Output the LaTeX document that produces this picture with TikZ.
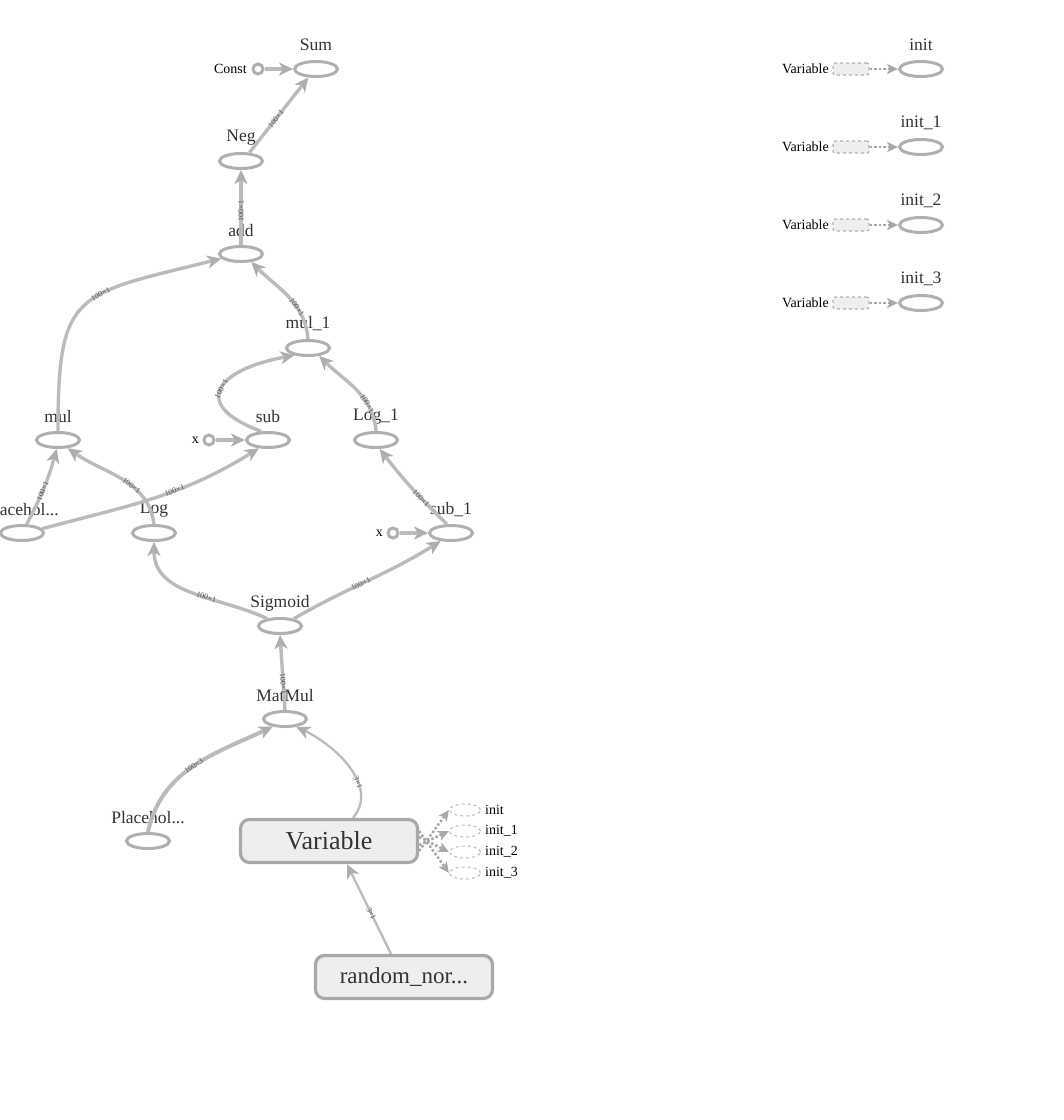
\documentclass[tikz,border=0pt]{standalone}
\usepackage{fontspec}
\setmainfont{Liberation Serif}
\usetikzlibrary{shapes.geometric,arrows.meta,calc}
\definecolor{edgec}{HTML}{BBBBBB}
\definecolor{arrc}{HTML}{AEAEAE}
\definecolor{nodec}{HTML}{B0B0B0}
\definecolor{boxfill}{HTML}{EEEEEE}
\definecolor{boxline}{HTML}{A8A8A8}
\definecolor{txt}{HTML}{333333}
\definecolor{elabc}{HTML}{555555}
\definecolor{dotc}{HTML}{A8A8A8}
\tikzset{
  op/.style={ellipse,draw=nodec,line width=3pt,fill=white,minimum width=43pt,minimum height=15pt,inner sep=0pt},
  smallop/.style={ellipse,draw=nodec!80,dashed,line width=1.1pt,fill=white,minimum width=31pt,minimum height=12pt,inner sep=0pt},
  cst/.style={circle,draw=nodec,line width=3pt,fill=white,minimum size=10pt,inner sep=0pt},
  lbl/.style={text=txt,font=\fontsize{17.5}{18}\selectfont,inner sep=0pt},
  slbl/.style={text=black,font=\fontsize{14}{15}\selectfont,inner sep=0pt},
  bigbox/.style={rectangle,rounded corners=9pt,draw=boxline,line width=3.2pt,fill=boxfill,text=txt,minimum width=177pt,minimum height=43pt,inner sep=0pt},
  ghost/.style={rectangle,rounded corners=2pt,draw=nodec,dashed,line width=1.1pt,fill=boxfill,minimum width=36pt,minimum height=12pt,inner sep=0pt},
  tip/.style={-{Stealth[length=14pt,width=13pt,inset=4pt,color=arrc]}},
  e/.style={draw=edgec,line width=3.4pt,tip},
  ethin/.style={draw=edgec,line width=2.3pt,tip},
  ethick/.style={draw=edgec,line width=4pt,tip},
  edot/.style={draw=dotc,dotted,line width=2.5pt,-{Stealth[length=11pt,width=10pt,inset=3pt,color=dotc]}},
  elab/.style={sloped,text=elabc,font=\fontsize{8}{8}\selectfont,inner sep=0.5pt},
}
\begin{document}
\begin{tikzpicture}[x=1pt,y=-1pt]
\useasboundingbox (0,0) rectangle (1064,1120);
\clip (0,0) rectangle (1064,1120);
\fill[white] (0,0) rectangle (1064,1120);

% ---------- nodes ----------
\node[op] (Sum) at (316,69) {};
\node[lbl] (Suml) at (316,45) {Sum};
\node[cst] (Const) at (258,69) {};
\node[slbl,anchor=east] (Constl) at (247,69) {Const};

\node[op] (Neg) at (241,161) {};
\node[lbl] (Negl) at (241,138) {Neg};

\node[op] (add) at (241,254) {};
\node[lbl] (addl) at (241,231) {add};

\node[op] (mul1) at (308,348) {};
\node[lbl] (mul1l) at (308,324) {mul\_1};

\node[op] (mul) at (58,440) {};
\node[lbl] (mull) at (58,417) {mul};

\node[op] (sub) at (268,440) {};
\node[lbl] (subl) at (268,417) {sub};
\node[cst] (xa) at (209,440) {};
\node[slbl,anchor=east] (xal) at (199,440) {x};

\node[op] (Log1) at (376,440) {};
\node[lbl] (Log1l) at (376,417) {Log\_1};

\node[op] (ph1) at (22,533) {};
\node[lbl] (ph1l) at (22,510) {Placehol...};

\node[op] (Log) at (154,533) {};
\node[lbl] (Logl) at (154,510) {Log};

\node[op] (sub1) at (451,533) {};
\node[lbl] (sub1l) at (451,510) {sub\_1};
\node[cst] (xb) at (393,533) {};
\node[slbl,anchor=east] (xbl) at (383,533) {x};

\node[op] (Sig) at (280,626) {};
\node[lbl] (Sigl) at (280,603) {Sigmoid};

\node[op] (MatMul) at (285,719) {};
\node[lbl] (MatMull) at (285,696) {MatMul};

\node[op] (ph2) at (148,841) {};
\node[lbl] (ph2l) at (148,818) {Placehol...};

\node[bigbox,font=\fontsize{26}{28}\selectfont] (Var) at (329,841) {Variable};
\node[bigbox,font=\fontsize{23}{25}\selectfont] (rnd) at (404,977) {random\_nor...};

\node[smallop] (i0) at (465,810) {};
\node[smallop] (i1) at (465,831) {};
\node[smallop] (i2) at (465,852) {};
\node[smallop] (i3) at (465,873) {};
\node[slbl,anchor=west] (i0l) at (485,810) {init};
\node[slbl,anchor=west] (i1l) at (485,831) {init\_1};
\node[slbl,anchor=west] (i2l) at (485,852) {init\_2};
\node[slbl,anchor=west] (i3l) at (485,873) {init\_3};

% right column
\foreach \n/\y/\t in {r0/69/init, r1/147/init\_1, r2/225/init\_2, r3/303/init\_3}{
  \node[op] (\n) at (921,\y) {};
  \node[lbl] (\n l) at (921,\y-24) {\t};
  \node[ghost] (\n v) at (851,\y) {};
  \node[slbl,anchor=east] (\n vl) at (829,\y) {Variable};
  \draw[edot] (\n v) -- (\n);
}

% ---------- edges ----------
\draw[e] (Const) -- (Sum);
\draw[e] (Neg.45) -- node[elab,pos=0.45]{100×1} (Sum.228);
\draw[e] (add) -- node[elab,pos=0.45]{100×1} (Neg);
\draw[e] (mul1.north) to[out=95,in=-45] node[elab,pos=0.35]{100×1} (add.-38);
\draw[e] (mul.north) .. controls (58,290) and (75,295) .. node[elab,pos=0.6]{100×1} (add.193);
\draw[e] (sub.128) .. controls (190,405) and (215,370) .. node[elab,pos=0.5]{100×1} (mul1.208);
\draw[e] (Log1.north) to[out=95,in=-45] node[elab,pos=0.3]{100×1} (mul1.-35);
\draw[e] (xa) -- (sub);
\draw[e] (ph1.62) to[bend right=6] node[elab,pos=0.45]{100×1} (mul.262);
\draw[e] (ph1.12) to[out=15,in=212] node[elab,pos=0.6]{100×1} (sub.222);
\draw[e] (Log.north) to[out=98,in=-35] node[elab,pos=0.4]{100×1} (mul.-40);
\draw[e] (sub1.115) to[bend left=4] node[elab,pos=0.35]{100×1} (Log1.-68);
\draw[e] (xb) -- (sub1);
\draw[e] (Sig.150) to[out=155,in=-90] node[elab,pos=0.4]{100×1} (Log.south);
\draw[e] (Sig.28) to[out=30,in=212] node[elab,pos=0.45]{100×1} (sub1.218);
\draw[e] (MatMul.north) -- node[elab,pos=0.35]{100×1} (Sig.south);
\draw[ethick] (ph2.north) to[out=78,in=205] node[elab,pos=0.5]{100×3} (MatMul.212);
\draw[ethin] ([xshift=24pt]Var.north) to[out=50,in=-25] node[elab,pos=0.35]{3×1} (MatMul.-35);
\draw[ethin] ([xshift=-13pt]rnd.north) -- node[elab,pos=0.45]{3×1} ([xshift=18pt]Var.south);

\draw[edot] ([yshift=-10pt]Var.east) -- (i0.west);
\draw[edot] ([yshift=-4pt]Var.east) -- (i1.west);
\draw[edot] ([yshift=4pt]Var.east) -- (i2.west);
\draw[edot] ([yshift=10pt]Var.east) -- (i3.west);
\end{tikzpicture}
\end{document}
